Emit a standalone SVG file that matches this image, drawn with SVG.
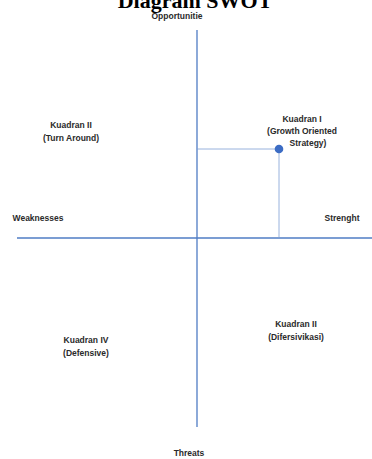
<svg xmlns="http://www.w3.org/2000/svg" width="372" height="459" viewBox="0 0 372 459">
<style>
.t{font-family:"Liberation Sans",Arial,sans-serif;font-weight:bold;font-size:8.5px;fill:#2a2a2a;text-anchor:middle}
.ttl{font-family:"Liberation Serif","Times New Roman",serif;font-weight:bold;font-size:22px;fill:#000;text-anchor:middle}
.axis{stroke:#4f7cc4;stroke-width:1.3;fill:none}
.guide{stroke:#7f9fd4;stroke-width:0.8;fill:none}
</style>
<rect width="372" height="459" fill="#fff"/>
<text class="ttl" x="195" y="8">Diagram SWOT</text>
<g id="connectors">
<line class="axis" x1="197" y1="30" x2="197" y2="427"/>
<line class="axis" x1="17" y1="238" x2="372" y2="238"/>
<line class="guide" x1="197" y1="149" x2="279" y2="149"/>
<line class="guide" x1="279" y1="149" x2="279" y2="238"/>
</g>
<g id="point"><circle cx="279" cy="149" r="4.3" fill="#3c6cc4"/></g>
<g id="opportunitie"><text class="t" x="177" y="19">Opportunitie</text></g>
<g id="threats"><text class="t" x="189" y="456">Threats</text></g>
<g id="weaknesses"><text class="t" x="38" y="221">Weaknesses</text></g>
<g id="strenght"><text class="t" x="342" y="221">Strenght</text></g>
<g id="kuadran2-tl"><text class="t" x="71" y="128">Kuadran II</text><text class="t" x="71" y="141">(Turn Around)</text></g>
<g id="kuadran1"><text class="t" x="302" y="122">Kuadran I</text><text class="t" x="302" y="134">(Growth Oriented</text><text class="t" x="308" y="146">Strategy)</text></g>
<g id="kuadran4"><text class="t" x="86" y="343">Kuadran IV</text><text class="t" x="86" y="356">(Defensive)</text></g>
<g id="kuadran2-br"><text class="t" x="296" y="327">Kuadran II</text><text class="t" x="296" y="340">(Difersivikasi)</text></g>
</svg>
